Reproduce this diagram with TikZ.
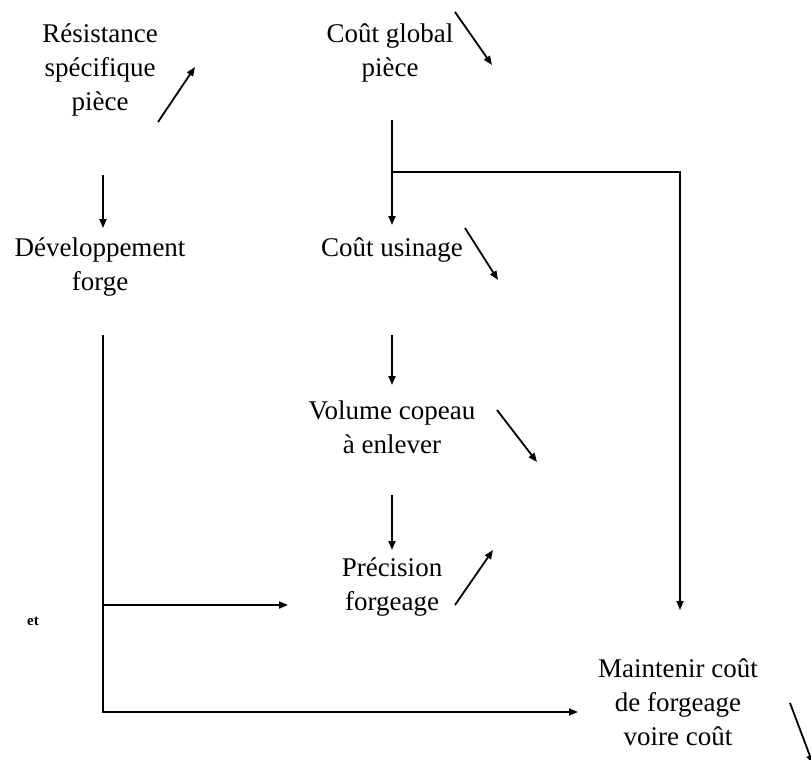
\documentclass[tikz,border=0pt]{standalone}
\usepackage{fontspec}
\setmainfont{Liberation Serif}
\usetikzlibrary{arrows.meta,calc,positioning}

\begin{document}
\begin{tikzpicture}[x=1pt, y=-1pt, >={Triangle[length=9pt,width=7pt]}]
    \tikzset{
        a/.style={->, line width=1.8pt},
        txt/.style={align=center, inner sep=0pt, font=\fontsize{27}{34}\selectfont}
    }

    \useasboundingbox (0,0) rectangle (811,760);

    \node [txt] (res) at (100,70) {Résistance\\spécifique\\pièce};
    \node [txt] (glob) at (390,53) {Coût global\\pièce};
    \node [txt] (dev) at (100,267) {Développement\\forge};
    \node [txt] (usin) at (392,250) {Coût usinage};
    \node [txt] (vol) at (392,427) {Volume copeau\\à enlever};
    \node [txt] (prec) at (392,587) {Précision\\forgeage};
    \node [txt] (maint) at (678,702) {Maintenir coût\\de forgeage\\voire coût};
    \node [inner sep=0pt, font=\fontsize{15}{17}\selectfont\bfseries] (et) at (33,621) {et};

    % tendances
    \draw [a] ($(res)+(58,52)$) -- ($(res)+(95,-3)$);
    \draw [a] ($(glob)+(65,-41)$) -- ($(glob)+(102,12)$);
    \draw [a] ($(usin)+(73,-22)$) -- ($(usin)+(106,30)$);
    \draw [a] ($(vol)+(105,-17)$) -- ($(vol)+(145,35)$);
    \draw [a] ($(prec)+(63,18)$) -- ($(prec)+(101,-37)$);
    \draw [a] ($(maint)+(112,1)$) -- ($(maint)+(135,62)$);

    % liens
    \draw [a] ($(res)+(3,105)$) -- ($(dev)+(3,-39)$);
    \draw [a] ($(glob)+(2,67)$) -- ($(usin)+(0,-25)$);
    \coordinate (split) at ($(glob)+(2,119)$);
    \draw [a] (split) -| ($(maint)+(2,-92)$);
    \draw [a] ($(usin)+(0,85)$) -- ($(vol)+(0,-42)$);
    \draw [a] ($(vol)+(0,68)$) -- ($(prec)+(0,-37)$);
    \draw [a] ($(dev)+(3,68)$) |- ($(maint)+(-100,10)$);
    \draw [a] ($(dev)+(3,338)$) -- ($(prec)+(-104,18)$);

\end{tikzpicture}
\end{document}
